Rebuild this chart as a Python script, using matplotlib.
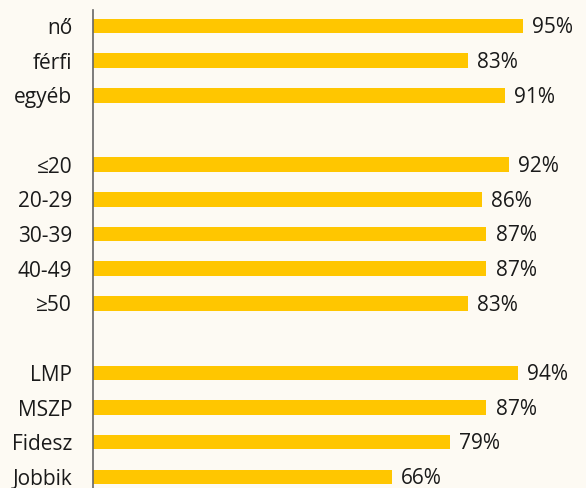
import matplotlib

matplotlib.use("Agg")
import matplotlib.pyplot as plt
import numpy as np

# rows in order, None marks an empty spacer row between groups
labels = ["nő", "férfi", "egyéb", None, "≤20", "20-29", "30-39", "40-49", "≥50",
          None, "LMP", "MSZP", "Fidesz", "Jobbik"]
values = [95, 83, 91, None, 92, 86, 87, 87, 83, None, 94, 87, 79, 66]

BG = "#fdfaf3"
BAR = "#ffc600"

plt.rcParams["font.family"] = ["Open Sans", "DejaVu Sans"]

fig = plt.figure(figsize=(5.86, 4.88), dpi=100, facecolor=BG)
ax = fig.add_axes([93 / 586, 0.0, 1 - 93 / 586, 478 / 488], facecolor=BG)

ys = [i for i, v in enumerate(values) if v is not None]
vs = [v for v in values if v is not None]
ls = [l for l in labels if l is not None]

ax.barh(ys, vs, height=0.42, color=BAR)
for y, v in zip(ys, vs):
    ax.text(v + 2.0, y + 0.05, f"{v}%", va="center", ha="left", fontsize=15, color="#1a1a1a")

ax.set_yticks(ys)
ax.set_yticklabels(ls, fontsize=15, color="#1a1a1a")
ax.tick_params(axis="y", length=0, pad=15)
ax.set_xticks([])
ax.set_xlim(0, 109)
ax.set_ylim(13.32, -0.46)
for s in ["top", "right", "bottom"]:
    ax.spines[s].set_visible(False)
ax.spines["left"].set_color("#666666")
ax.spines["left"].set_linewidth(1.2)

fig.savefig("out.png", facecolor=BG)
